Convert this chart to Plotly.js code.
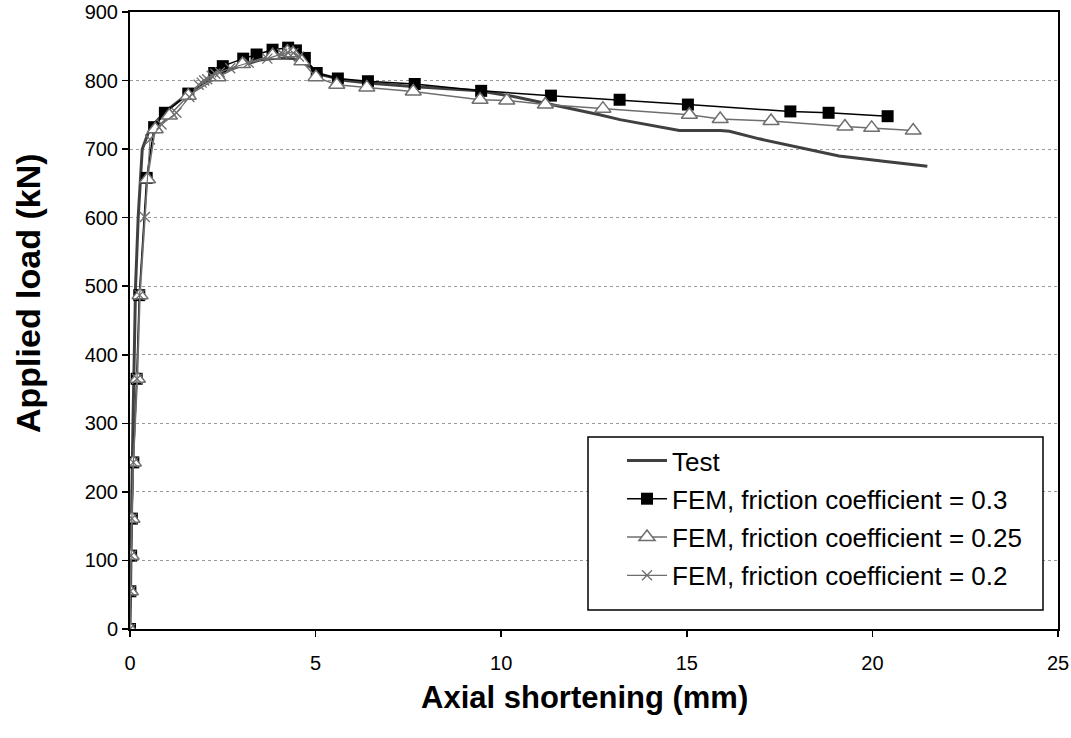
<!DOCTYPE html>
<html>
<head>
<meta charset="utf-8">
<script src="https://cdn.plot.ly/plotly-3.0.1.min.js"></script>
<style>
html,body{margin:0;padding:0;background:#fff;}
#chart{width:1071px;height:738px;}
</style>
</head>
<body>
<div id="chart"></div>
<script>
// Test curve
const testX = [0, 0.02, 0.05, 0.08, 0.11, 0.15, 0.22, 0.33, 0.5, 0.7, 1.0, 1.5, 2.0, 2.5, 3.0, 3.5, 4.0, 4.4, 4.8, 5.2, 5.8, 6.5, 7.7, 8.5, 9.4, 10.3, 11.2, 12.0, 12.65, 13.2, 14.0, 14.8, 15.9, 16.15, 16.95, 17.94, 19.1, 20.36, 21.48];
const testY = [0, 100, 200, 300, 400, 500, 600, 700, 725, 740, 757, 778, 797, 812, 822, 830, 833, 832, 822, 808, 800, 796, 791, 788, 785, 777, 767, 757, 750, 743, 735, 727, 727, 726, 715, 704, 690, 682, 675];

// FEM, friction coefficient = 0.3
const fem30X = [0, 0.01, 0.03, 0.05, 0.09, 0.18, 0.25, 0.45, 0.65, 0.94, 1.57, 2.27, 2.5, 3.05, 3.41, 3.84, 4.26, 4.47, 4.71, 5.03, 5.6, 6.41, 7.67, 9.46, 11.34, 13.19, 15.03, 17.79, 18.82, 20.41];
const fem30Y = [0, 55, 107, 161, 243, 365, 487, 658, 732, 753, 781, 811, 821, 832, 838, 845, 848, 844, 833, 811, 803, 799, 795, 785, 778, 772, 765, 755, 753, 748];

// FEM, friction coefficient = 0.25
const fem25X = [0, 0.01, 0.03, 0.05, 0.09, 0.2, 0.27, 0.47, 0.68, 1.06, 1.57, 2.37, 3.03, 3.84, 4.24, 4.39, 4.63, 5.01, 5.57, 6.38, 7.63, 9.43, 10.15, 11.19, 12.74, 15.07, 15.9, 17.27, 19.26, 19.98, 21.1];
const fem25Y = [0, 55, 107, 161, 243, 365, 487, 656, 729, 749, 778, 805, 824, 837, 842, 840, 828, 805, 794, 790, 784, 772, 771, 765, 759, 750, 744, 741, 733, 731, 727];

// FEM, friction coefficient = 0.2
const fem20X = [0, 0.01, 0.03, 0.05, 0.09, 0.19, 0.26, 0.4, 0.54, 0.85, 1.25, 1.6, 1.85, 1.93, 2.0, 2.08, 2.2, 2.3, 2.42, 2.7, 3.2, 3.7, 4.1, 4.25, 4.4, 4.55];
const fem20Y = [0, 55, 107, 161, 243, 365, 487, 601, 714, 736, 753, 776, 794, 797, 800, 802, 807, 810, 812, 818, 826, 832, 839, 841, 840, 835];

const seriesNames = ['Test', 'FEM, friction coefficient = 0.3', 'FEM, friction coefficient = 0.25', 'FEM, friction coefficient = 0.2'];
const xTitle = 'Axial shortening (mm)';
const yTitle = 'Applied load (kN)';
const xTicks = [0, 5, 10, 15, 20, 25];
const yTicks = [0, 100, 200, 300, 400, 500, 600, 700, 800, 900];

const traces = [
  {x: testX, y: testY, name: seriesNames[0], mode: 'lines', legendgroup: 'a',
   line: {color: '#404040', width: 3}},
  {x: fem30X, y: fem30Y, name: seriesNames[1], mode: 'lines+markers', legendgroup: 'b',
   line: {color: '#000000', width: 1.5},
   marker: {symbol: 'square', size: 12, color: '#000000'}},
  {x: fem25X, y: fem25Y, name: seriesNames[2], mode: 'lines+markers', legendgroup: 'c',
   line: {color: '#6e6e6e', width: 1.5},
   marker: {symbol: 'triangle-up', size: 14, color: '#ffffff', line: {color: '#6e6e6e', width: 1.5}}},
  {x: fem20X, y: fem20Y, name: seriesNames[3], mode: 'lines+markers', legendgroup: 'd',
   line: {color: '#6e6e6e', width: 1.2},
   marker: {symbol: 'x-thin', size: 10, color: '#6e6e6e', line: {color: '#6e6e6e', width: 1.3}}}
];

const font = 'Liberation Sans, Arial, sans-serif';
const layout = {
  width: 1071, height: 738,
  margin: {l: 130, r: 13, t: 12, b: 109},
  paper_bgcolor: '#ffffff', plot_bgcolor: '#ffffff',
  font: {family: font, size: 20, color: '#000000'},
  showlegend: true,
  legend: {
    x: (622 - 130) / 928, y: (629 - 437) / 617, xanchor: 'left', yanchor: 'top',
    bgcolor: 'rgba(0,0,0,0)', borderwidth: 0,
    font: {family: font, size: 26, color: '#000000'},
    traceorder: 'grouped', tracegroupgap: 1.5, itemwidth: 40
  },
  shapes: [{
    type: 'rect', xref: 'paper', yref: 'paper',
    x0: (588 - 130) / 928, x1: (1043 - 130) / 928,
    y0: (629 - 610) / 617, y1: (629 - 437) / 617,
    line: {color: '#000000', width: 1.5}, fillcolor: '#ffffff', layer: 'above'
  }],
  annotations: [
    {text: '<b>' + xTitle + '</b>', xref: 'paper', yref: 'paper',
     x: (584 - 130) / 928, y: (629 - 697) / 617, xanchor: 'center', yanchor: 'middle',
     showarrow: false, font: {family: font, size: 31, color: '#000000'}},
    {text: '<b>' + yTitle + '</b>', xref: 'paper', yref: 'paper', textangle: -90,
     x: (28 - 130) / 928, y: (629 - 293) / 617, xanchor: 'center', yanchor: 'middle',
     showarrow: false, font: {family: font, size: 34, color: '#000000'}}
  ],
  xaxis: {
    range: [0, 25], tickvals: xTicks, ticktext: xTicks.map(String),
    showline: true, linecolor: '#000000', linewidth: 2, mirror: true,
    ticks: 'outside', ticklen: 6, tickcolor: '#000000', tickwidth: 1.5,
    showgrid: false, zeroline: false,
    tickfont: {family: font, size: 20, color: '#000000'},
    ticklabelstandoff: 9
  },
  yaxis: {
    range: [0, 900], tickvals: yTicks, ticktext: yTicks.map(String),
    showline: true, linecolor: '#000000', linewidth: 2, mirror: true,
    ticks: 'outside', ticklen: 6, tickcolor: '#000000', tickwidth: 1.5,
    showgrid: true, gridcolor: '#9a9a9a', griddash: 'dot', gridwidth: 1,
    zeroline: false,
    tickfont: {family: font, size: 20, color: '#000000'},
    ticklabelstandoff: 0
  }
};

Plotly.newPlot('chart', traces, layout, {displayModeBar: false, staticPlot: true});
</script>
</body>
</html>
